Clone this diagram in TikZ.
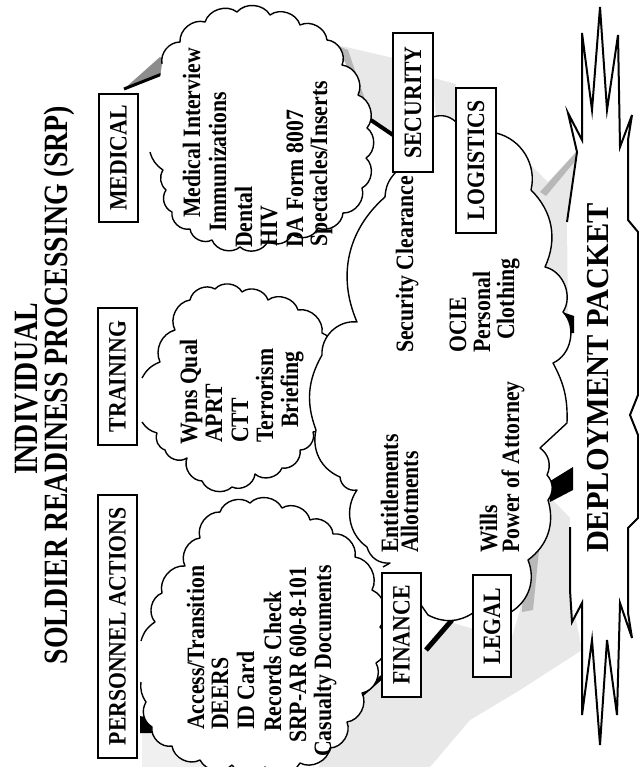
\documentclass[tikz,border=0pt]{standalone}
\usepackage{fontspec}
\newfontfamily\tf[FakeStretch=0.87]{Liberation Serif Bold}
\newfontfamily\ttlf[FakeStretch=0.82]{Liberation Serif Bold}
\newfontfamily\depf[FakeStretch=0.95]{Liberation Serif Bold}
\tikzset{
  txt/.style={rotate=90, anchor=base west, inner sep=0pt, font=\tf\fontsize{25}{26}\selectfont},
  lbl/.style={rotate=90, draw, line width=1.8pt, fill=white, inner sep=0pt, font=\tf\fontsize{25}{26}\selectfont},
  ttl/.style={rotate=90, anchor=base, inner sep=0pt, font=\ttlf\fontsize{34}{36}\selectfont},
  deptxt/.style={rotate=90, anchor=base, inner sep=0pt, font=\depf\fontsize{32}{34}\selectfont},
  cloudline/.style={line width=1.4pt, line join=round},
  depline/.style={line width=2pt, line join=miter},
  stip/.style={fill=black!9},
  stipdark/.style={fill=black!28},
  bandline/.style={line width=4pt},
}
\def\perscloud{(141,641) to[bend left=20] (155,622) to[bend left=55] (162,593) to[bend left=55] (185,566) to[bend left=55] (200,538) to[bend left=55] (220,512) to[bend left=55] (250,503) to[bend left=55] (282,508) to[bend left=55] (310,520) to[bend left=55] (333,534) to[bend left=55] (355,557) to[bend left=55] (372,590) to[bend left=55] (380,627) to[bend left=55] (376,663) to[bend left=55] (362,693) to[bend left=55] (347,722) to[bend left=55] (330,748) to[bend left=55] (300,763) to[bend left=55] (265,767) to[bend left=55] (232,765) to[bend left=55] (200,760) to[bend left=55] (172,746) to[bend left=55] (152,727) to[bend left=45] (146,702) to[bend left=20] (141,682)}
\def\traincloud{(142,378) to[bend left=20] (160,362) to[bend left=50] (175,330) to[bend left=55] (190,300) to[bend left=55] (215,289) to[bend left=55] (242,292) to[bend left=55] (268,300) to[bend left=55] (298,310) to[bend left=55] (322,333) to[bend left=55] (330,362) to[bend left=55] (320,385) to[bend left=55] (326,410) to[bend left=55] (313,432) to[bend left=55] (300,450) to[bend left=55] (282,468) to[bend left=55] (255,474) to[bend left=55] (232,487) to[bend left=55] (202,481) to[bend left=55] (187,458) to[bend left=55] (165,450) to[bend left=45] (157,433) to[bend left=20] (142,422)}
\def\medcloud{(162,64) to[bend left=50] (180,42) to[bend left=55] (205,22) to[bend left=55] (237,12) to[bend left=55] (270,15) to[bend left=55] (300,25) to[bend left=55] (327,40) to[bend left=55] (342,65) to[bend left=55] (358,95) to[bend left=55] (367,128) to[bend left=55] (366,158) to[bend left=55] (362,188) to[bend left=55] (343,213) to[bend left=55] (318,228) to[bend left=55] (292,234) to[bend left=55] (268,241) to[bend left=55] (240,247) to[bend left=55] (212,240) to[bend left=55] (190,229) to[bend left=55] (172,212) to[bend left=50] (166,190) to[bend left=40] (163,170) to[bend left=20] (150,152)}
\def\bigcloud{(383,567) -- (390,563) to[bend left=40] (367,547) to[bend left=45] (357,490) to[bend left=50] (340,477) to[bend left=40] (316,430) to[bend left=25] (322,355) to[bend left=50] (357,322) to[bend left=36] (385,197) to[bend left=20] (396,172) -- (433,117) to[bend left=30] (456,122) -- (496,133) to[bend left=45] (531,190) to[bend left=35] (545,267) to[bend left=55] (563,312) to[bend left=55] (553,363) to[bend left=15] (567,423) -- (540,448) to[bend left=40] (547,475) to[bend left=40] (548,500) to[bend left=35] (528,560) to[bend left=40] (511,612) -- (473,613) to[bend left=30] (428,615) -- (421,605)}
\def\deppath{(567,222) -- (577,152) -- (568,113) -- (582,140) -- (582,33) -- (592,110) -- (600,7) -- (607,110) -- (618,35) -- (620,147) -- (632,115) -- (628,140) -- (628,220) -- (638,232) -- (638,395) -- (630,415) -- (638,435) -- (638,518) -- (628,528) -- (628,613) -- (632,638) -- (620,603) -- (617,715) -- (607,640) -- (600,745) -- (592,640) -- (582,715) -- (582,603) -- (572,622) -- (570,590) -- (570,527)}
\begin{document}
\begin{tikzpicture}[x=1pt,y=-1pt]
\useasboundingbox[fill=white] (0,0) rectangle (638,767);
% shaded ring (stipple)
\fill[stip] (333,44) -- (393,58) -- (393,132) -- (366,115) -- (358,90) -- (345,62) -- cycle;
\fill[stipdark] (333,44) -- (348,50) -- (368,108) -- (366,115) -- (358,90) -- (345,62) -- cycle;
\fill[stip] (433,78) -- (456,84) -- (456,122) -- (436,117) -- cycle;
\fill[stip] (505,140) -- (548,182) -- (578,150) -- (568,222) -- (575,312) -- (556,318) -- (530,200) -- cycle;
\fill[stipdark] (540,192) -- (578,150) -- (576,160) -- (546,196) -- cycle;
\fill[stip] (548,495) -- (572,520) -- (572,600) -- (582,650) -- (520,690) -- (470,720) -- (430,767) -- (318,767) -- (330,750) -- (350,715) -- (365,690) -- (385,680) -- (430,645) -- (450,622) -- (511,640) -- (520,610) -- (528,560) -- cycle;
\fill[stipdark] (548,500) -- (540,540) -- (533,610) -- (522,612) -- (524,560) -- cycle;
\fill[black!6] (142,731) -- (195,735) -- (212,767) -- (142,767) -- cycle;
% deployment packet
\fill[white] \deppath -- cycle;
\draw[depline] \deppath;
% black bands of the ring
\draw[bandline] (362,114) -- (393,135);
\fill (562,312) -- (574,316) -- (574,333) -- (565,333) -- cycle;
\draw[bandline] (358,698) -- (383,676);
\draw[line width=5pt] (426,650) -- (452,620);
\fill (547,483) -- (573,467) -- (573,490) -- (550,502) -- cycle;
\fill (140,716) -- (170,722) -- (198,734) -- (170,733) -- (140,733) -- cycle;
\fill[black!45] (124,89) -- (160,57) -- (168,62) -- (162,74) -- cycle;
\draw[line width=3pt] (124,89) -- (162,74);
% clouds
\fill[white] \perscloud -- cycle;
\draw[cloudline] \perscloud;
\fill[white] \traincloud -- cycle;
\draw[cloudline] \traincloud;
\fill[white] \medcloud -- cycle;
\draw[cloudline] \medcloud;
\fill[white] \bigcloud -- (400,590) -- cycle;
\draw[cloudline] \bigcloud;
% boxes
\node[lbl, minimum width=263pt, minimum height=39pt] (pa) at (117.5,626.5) {PERSONNEL ACTIONS};
\node[lbl, minimum width=137pt, minimum height=39pt] (tr) at (117.5,376.5) {TRAINING};
\node[lbl, minimum width=128pt, minimum height=39pt] (md) at (118.5,158) {MEDICAL};
\node[lbl, minimum width=139pt, minimum height=40pt] (sc) at (413,102.5) {SECURITY};
\node[lbl, minimum width=145pt, minimum height=40pt] (lg) at (476,160.5) {LOGISTICS};
\node[lbl, minimum width=124pt, minimum height=39pt] (fn) at (401.5,635) {FINANCE};
\node[lbl, minimum width=102pt, minimum height=38pt] (le) at (492,626) {LEGAL};
% titles
\node[ttl] (t1) at (37,389) {INDIVIDUAL};
\node[ttl] (t2) at (67,385) {SOLDIER READINESS PROCESSING (SRP)};
\node[deptxt] (dp) at (608,378) {DEPLOYMENT PACKET};
% personnel texts
\node[txt] (p1) at (204,730) {Access/Transition};
\node[txt] (p2) at (228,730) {DEERS};
\node[txt] (p3) at (254,730) {ID Card};
\node[txt] (p4) at (281,732) {Records Check};
\node[txt] (p5) at (306,743) {SRP-AR 600-8-101};
\node[txt] (p6) at (331,757) {Casualty Documents};
% training texts
\node[txt] (r1) at (197,445) {Wpns Qual};
\node[txt] (r2) at (222,443) {APRT};
\node[txt] (r3) at (248,443) {CTT};
\node[txt] (r4) at (273,443) {Terrorism};
\node[txt] (r5) at (298,428) {Briefing};
% medical texts
\node[txt] (m1) at (200,218) {Medical Interview};
\node[txt] (m2) at (226,232) {Immunizations};
\node[txt] (m3) at (252,248) {Dental};
\node[txt] (m4) at (277,247) {HIV};
\node[txt] (m5) at (303,248) {DA Form 8007};
\node[txt] (m6) at (327,247) {Spectacles/Inserts};
% big cloud texts
\node[txt] (s1) at (413,353) {Security Clearance};
\node[txt] (o1) at (466,353) {OCIE};
\node[txt] (o2) at (490,353) {Personal};
\node[txt] (o3) at (514,340) {Clothing};
\node[txt] (f1) at (398,553) {Entitlements};
\node[txt] (f2) at (418,553) {Allotments};
\node[txt] (l1) at (497,553) {Wills};
\node[txt] (l2) at (519,553) {Power of Attorney};
\end{tikzpicture}
\end{document}
